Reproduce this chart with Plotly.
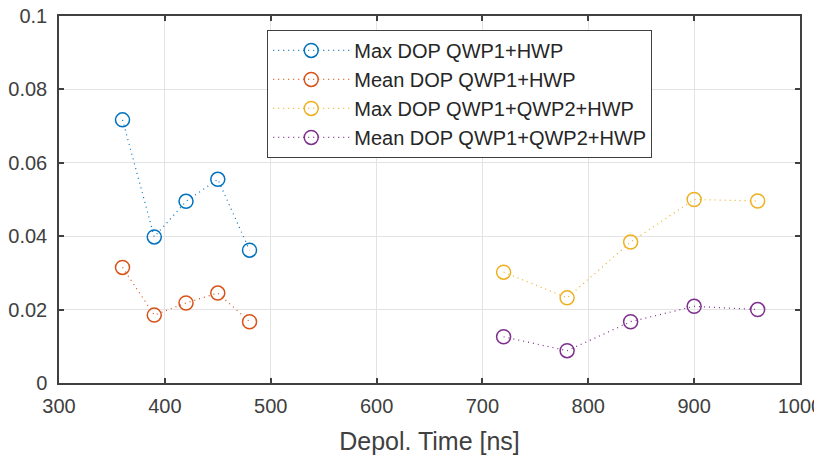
import plotly.graph_objects as go

x_qwp1 = [360, 390, 420, 450, 480]
max_qwp1 = [0.0717, 0.0398, 0.0495, 0.0555, 0.0362]
mean_qwp1 = [0.0315, 0.0185, 0.0218, 0.0245, 0.0167]

x_qwp2 = [720, 780, 840, 900, 960]
max_qwp2 = [0.0302, 0.0232, 0.0384, 0.0500, 0.0496]
mean_qwp2 = [0.0126, 0.0088, 0.0167, 0.0209, 0.0200]

names = ["Max DOP QWP1+HWP", "Mean DOP QWP1+HWP",
         "Max DOP QWP1+QWP2+HWP", "Mean DOP QWP1+QWP2+HWP"]
colors = ["#0072BD", "#D95319", "#EDB120", "#7E2F8E"]

FONT = "Liberation Sans, Arial, sans-serif"

fig = go.Figure()
for xs, ys, nm, c in [(x_qwp1, max_qwp1, names[0], colors[0]),
                      (x_qwp1, mean_qwp1, names[1], colors[1]),
                      (x_qwp2, max_qwp2, names[2], colors[2]),
                      (x_qwp2, mean_qwp2, names[3], colors[3])]:
    fig.add_trace(go.Scatter(
        x=xs, y=ys, name=nm, mode="lines+markers",
        line=dict(color=c, width=1.2, dash="1px,4px"),
        marker=dict(symbol="circle-open", size=14, color=c, line=dict(width=1.5, color=c)),
    ))

axis_common = dict(
    showline=True, linecolor="#404040", linewidth=1.5, mirror="ticks",
    ticks="inside", ticklen=5, tickwidth=1.5, tickcolor="#404040",
    showgrid=True, gridcolor="#E3E3E3", gridwidth=1, zeroline=False,
    automargin=False, ticklabeloverflow="allow",
    tickfont=dict(family=FONT, size=20, color="#404040"),
)

fig.update_layout(
    width=814, height=447,
    margin=dict(l=51, r=22, t=8, b=72),
    paper_bgcolor="white", plot_bgcolor="white",
    xaxis=dict(range=[300, 1000], dtick=100, ticklabelstandoff=4, **axis_common,
               title=dict(text="Depol. Time [ns]", standoff=17,
                          font=dict(family=FONT, size=25, color="#404040"))),
    yaxis=dict(range=[0, 0.1], dtick=0.02, tickformat="~g", ticklabelstandoff=6, **axis_common),
    legend=dict(x=0.281, y=0.962, xanchor="left", yanchor="top",
                bordercolor="#404040", borderwidth=1, bgcolor="white",
                itemwidth=76, tracegroupgap=0,
                font=dict(family=FONT, size=20, color="#262626")),
    showlegend=True,
)

fig.write_html("out.html")
